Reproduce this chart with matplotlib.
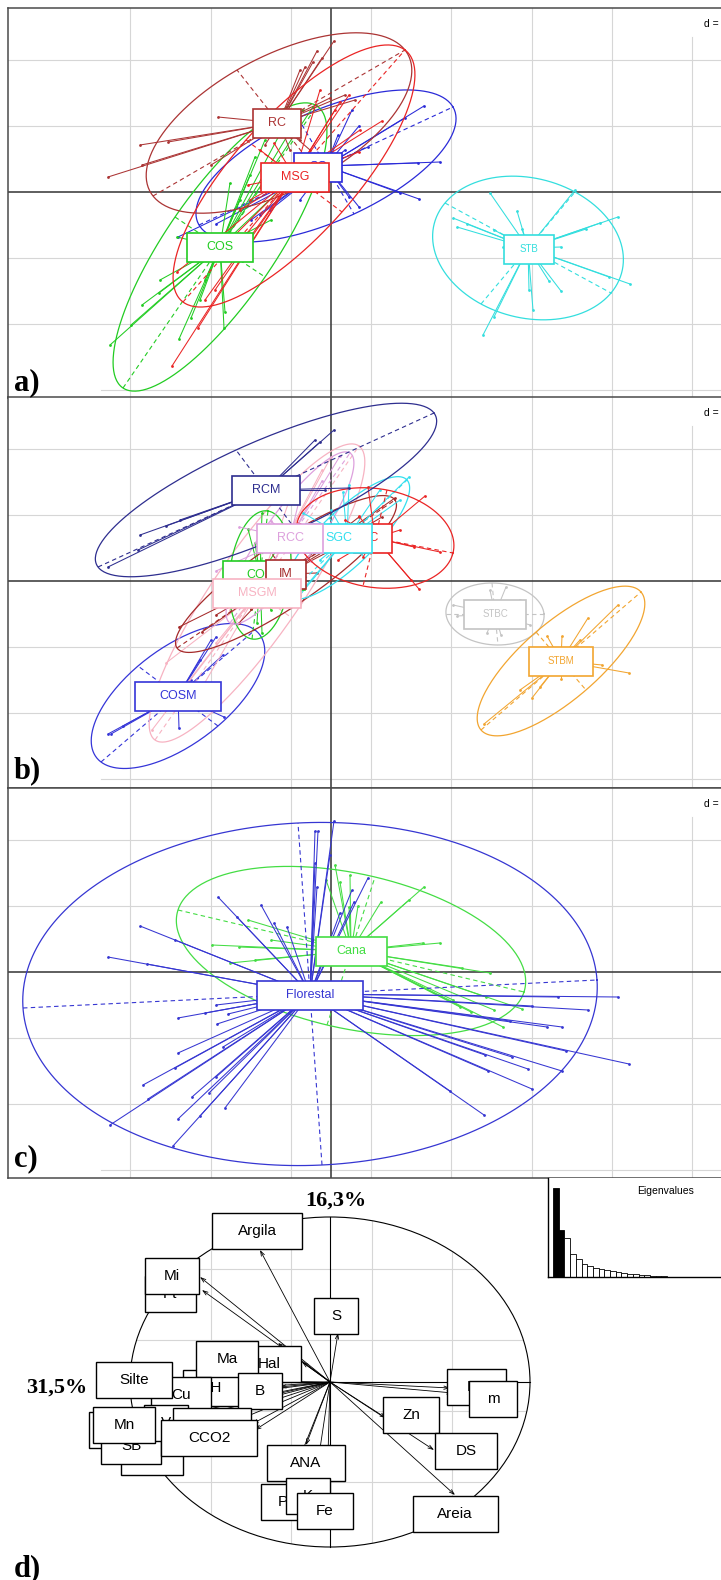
import numpy as np
import matplotlib
matplotlib.use("Agg")
import matplotlib.pyplot as plt
from matplotlib.patches import Rectangle, Ellipse
from matplotlib.collections import LineCollection

plt.rcParams['font.family'] = ['Liberation Sans', 'DejaVu Sans']

# ------------------------------------------------------------------ data
# Panel a) : class scores (units: grid-relative, read from the picture)
A_GROUPS = ["STB", "SG", "COS", "RC", "MSG"]
A_COLORS = ["#33dede", "#2a2ad8", "#22cc22", "#ab3434", "#ea2424"]
A_CX = [197, -5, -111, -52, -37]
A_CY = [-56, 26, -55, 69, 16]
A_AX1 = [(83, -45), (127, 59), (97, 141), (126, 73), (111, 126)]
A_AX2 = [(47, 56), (28, -48), (45, -30), (-42, 53), (48, -36)]
A_LX = [198, -13, -111, -54, -36]
A_LY = [-57, 25, -55, 69, 15]
A_LABEL_ORDER = ["SG", "COS", "RC", "STB", "MSG"]

A_PTS_STB = [(159, -1), (186, -19), (122, -26), (126, -35), (163, -38), (191, -37), (287, -25),
             (255, -37), (230, -55), (172, -55), (299, -92), (230, -99), (198, -98), (202, -118),
             (152, -143), (163, -125), (136, -32), (269, -31), (278, -85), (218, -89), (244, 2)]
A_PTS_SG = [(93, 86), (109, 30), (88, -7), (28, 66), (21, 82), (7, 57), (-115, -32), (-153, -45),
            (-80, -28), (87, 29), (69, -1), (74, 74), (37, 45), (18, -5), (28, -15), (14, 42),
            (-31, -8), (-61, -18), (-71, -23)]
A_PTS_COS = [(-18, 85), (-28, 82), (-41, 77), (-154, -45), (-189, -113), (-221, -153), (-152, -147),
             (-107, -136), (-140, -126), (-101, 9), (-76, 35), (-60, -28), (-200, -133), (-172, -101),
             (-106, -120), (-91, -8), (-81, 17), (-66, 52), (-131, -108), (-126, -88), (-171, -88), (-51, 2)]
A_PTS_RC = [(3, 151), (-14, 141), (-9, 134), (-18, 130), (-26, 125), (-31, 122), (-113, 75),
            (-163, 50), (-189, 27), (-223, 15), (-191, 47), (-120, 27), (-36, 82), (-1, 94), (14, 97),
            (-31, 52), (-41, 42), (-21, 42), (24, 92), (-66, 47)]
A_PTS_MSG = [(18, 97), (9, 90), (51, 71), (28, 40), (-83, 7), (-57, 49), (-154, -80), (-133, -136),
             (-159, -174), (-126, -108), (-116, -98), (-106, -68), (-101, -48), (4, 82), (-11, 102),
             (29, 62), (-81, -8), (-71, 42), (-91, -18)]

# Panel b)
B_GROUPS = ["STBC", "STBM", "COSM", "MSGM", "COSC", "IM", "RCC", "SGC", "IC", "RCM"]
B_COLORS = ["#c4c4c4", "#f2a530", "#3535d8", "#f7b3c2", "#22cc22", "#a52a2a", "#dda0dd",
            "#33dfee", "#ea2424", "#2e2e8f"]
B_CX = [164, 230, -153, -74, -71, -45, -41, 16, 44, -65]
B_CY = [-33, -80, -115, -12, 6, 7, 43, 43, 43, 91]
B_AX1 = [(49, 0), (80, 69), (77, 66), (102, 147), (8, 64), (109, 74), (60, 85), (60, 58), (78, -15), (168, 77)]
B_AX2 = [(3, -31), (25, -29), (-40, 30), (35, -25), (30, -5), (18, -26), (22, -14), (18, -20), (-12, -48), (-30, 40)]
B_LX = [164, 230, -153, -74, -67, -45, -41, 8, 42, -65]
B_LY = [-33, -80, -115, -12, 6, 7, 43, 43, 43, 91]
B_LABEL_ORDER = ["IC", "SGC", "RCC", "COSC", "IM", "MSGM", "RCM", "COSM", "STBC", "STBM"]

B_PTS_STBC = [(126, -35), (159, -9), (175, -6), (170, -54), (156, -52), (122, -24), (189, -19), (199, -44)]
B_PTS_STBM = [(287, -24), (257, -37), (231, -55), (216, -55), (298, -92), (230, -98), (201, -117),
              (153, -143), (271, -84), (209, -106), (189, -109), (249, -59)]
B_PTS_COSM = [(-223, -153), (-220, -153), (-152, -147), (-107, -136), (-108, -74), (-115, -56),
              (-208, -145), (-140, -99), (-120, -59), (-131, -79), (-181, -124)]
B_PTS_MSGM = [(-101, -29), (-165, -82), (-179, -149), (-138, -122), (-9, 111), (0, 124), (-37, 94),
              (-115, -62), (-147, -106)]
B_PTS_COSC = [(-83, 52), (-69, 68), (-60, -29), (-80, -28), (-74, -42), (-69, -52), (-76, 38), (-55, 30), (-83, -6)]
B_PTS_IM = [(64, 83), (51, 64), (28, 64), (-152, -46), (-115, -34), (-80, -28), (-14, 8), (14, 38),
            (-129, -51), (-92, -42)]
B_PTS_RCC = [(-9, 100), (-32, 80), (-92, 54), (-115, 10), (9, 125), (-60, 60), (-20, 20)]
B_PTS_SGC = [(78, 104), (49, 91), (18, 96), (12, 89), (0, 71), (-37, -19), (-31, -14), (-28, 68), (69, 81), (-11, 21)]
B_PTS_IC = [(94, 85), (109, 29), (88, -8), (28, 65), (37, 94), (32, 24), (80, 1), (83, 34), (69, 51),
            (49, 56), (14, 61), (7, 21)]
B_PTS_RCM = [(3, 151), (-16, 141), (-11, 139), (-191, 46), (-223, 14), (-165, 55), (-193, 31),
             (-151, 61), (18, 93), (-6, 91)]

# Panel c)
C_GROUPS = ["Cana", "Florestal"]
C_COLORS = ["#44dd44", "#3636d2"]
C_CX = [20, -21]
C_CY = [21, -22]
C_AX1 = [(173, -41), (287, 14)]
C_AX2 = [(24, 74), (-12, 171)]
C_LX = [20, -21]
C_LY = [21, -23]
C_LABEL_ORDER = ["Cana", "Florestal"]

C_PTS_CANA = [(19, 97), (9, 90), (93, 85), (50, 70), (27, 66), (109, 29), (-119, 27), (-83, 52),
              (-101, 9), (-60, 32), (159, -1), (163, -38), (191, -37), (172, -55), (129, -35), (78, 72),
              (92, 29), (131, 4), (155, -25), (140, -40), (122, -28), (-92, 25), (-76, 12), (18, 65),
              (4, 107), (-5, 92)]
C_PTS_FLORESTAL = [(3, 151), (-16, 141), (-13, 141), (-113, 75), (-70, 67), (-191, 46), (-223, 15),
                   (-57, 49), (-44, 45), (21, 82), (37, 94), (-14, 85), (-115, -33), (-103, -42),
                   (-114, -52), (-153, -46), (-153, -81), (-108, -75), (-188, -113), (-139, -125),
                   (-106, -136), (-153, -147), (-221, -153), (-158, -174), (287, -25), (257, -38),
                   (216, -55), (231, -55), (298, -92), (197, -97), (231, -99), (201, -117), (153, -143),
                   (-156, 32), (-184, 8), (-94, 55), (-16, 109), (-1, 117), (9, 59), (23, 70), (227, -25),
                   (201, -34), (179, -49), (235, -79), (181, -85), (157, -99), (119, -119), (154, -83),
                   (-183, -127), (-156, -96), (-131, -144), (-122, -121), (-115, -105), (-126, -41)]

# Panel d) correlation circle (drawing order of labels)
D_VARS = ["Argila", "Pt", "Mi", "S", "Hal", "pH", "Ma", "Cu", "Silte", "B", "Ca", "Mg", "SB", "V",
          "Mn", "CTC", "CCO2", "Dp", "m", "Zn", "DS", "Areia", "ANA", "P", "K", "Fe"]
D_HIDDEN = ["Ca"]   # label fully covered by other boxes in the original
D_TIP_X = [-70, -128, -130, 8, -28, -88, -52, -110, -150, -50, -170, -150, -160, -140, -165, -78,
           -75, 120, 123, 56, 104, 125, -24, -40, -15, -3]
D_TIP_Y = [132, 92, 105, 49, 20, -6, 39, -14, 2, -5, -38, -62, -52, -36, -33, -42, -48, -6, -11,
           -36, -68, -113, -63, -100, -100, -110]
D_LAB_X = [-73, -160, -158, 6, -61, -118, -103, -149, -196, -70, -211, -178, -199, -164, -206, -118,
           -121, 146, 163, 81, 136, 125, -24, -47, -22, -5]
D_LAB_Y = [151, 88, 106, 66, 18, -6, 23, -13, 2, -9, -48, -75, -64, -41, -43, -44, -56, -5, -17,
           -33, -69, -132, -81, -120, -114, -129]
D_AXIS_LABELS = ["31,5%", "16,3%"]
EIGENVALUES = [8.9, 4.7, 3.9, 2.3, 1.8, 1.3, 1.1, 0.9, 0.8, 0.7, 0.6, 0.5, 0.4, 0.33, 0.27, 0.23,
               0.17, 0.13, 0.1, 0.07, 0.05, 0.03]
N_KEPT_AXES = 2
PANEL_LETTERS = ["a)", "b)", "c)", "d)"]

# ------------------------------------------------------------------ figure
W, H = 721, 1580
fig = plt.figure(figsize=(W / 100, H / 100), dpi=100)
renderer = fig.canvas.get_renderer()

GRID_C = '#d6d6d6'
FRAME_C = '#4a4a4a'
AXIS_C = '#333333'
VGRID = [-200.75, -120.45, -40.15, 40.15, 120.45, 200.75, 281.05, 361.35]
HGRID = [132, 66, -66, -132, -198]
DASH = (0, (4, 3))


def px_axes(x0, y0, x1, y1):
    return fig.add_axes([x0 / W, 1 - y1 / H, (x1 - x0) / W, (y1 - y0) / H])


def make_panel(top, bottom, oy):
    ax = px_axes(8, top, 760, bottom)
    ax.set_xlim(8 - 331, 760 - 331)
    ytop, ybot = oy - top, oy - bottom
    ax.set_ylim(ybot, ytop)
    ax.set_xticks([])
    ax.set_yticks([])
    for s in ['left', 'top', 'bottom']:
        ax.spines[s].set_color(FRAME_C)
        ax.spines[s].set_linewidth(1.1)
    ax.spines['right'].set_visible(False)
    for gx in VGRID:
        y_end = ytop if gx < 350 else ytop - 29
        ax.plot([gx, gx], [ybot, y_end], color=GRID_C, lw=0.8, zorder=0.5)
    for gy in HGRID:
        if ybot < gy < ytop:
            x0 = -323 if gy > -190 else 101 - 331
            ax.plot([x0, 429], [gy, gy], color=GRID_C, lw=0.8, zorder=0.5)
    ax.axhline(0, color=AXIS_C, lw=1.1, zorder=1)
    ax.axvline(0, color=AXIS_C, lw=1.1, zorder=1)
    ax.text(388, ytop - 16, "d =", fontsize=7.5, ha='right', va='center', zorder=2)
    return ax


def draw_group(ax, pts, c, u, v, color):
    pts = np.asarray(pts, float)
    cx, cy = c
    segs = [[(cx, cy), (p[0], p[1])] for p in pts]
    ax.add_collection(LineCollection(segs, colors=color, linewidths=0.75, zorder=3))
    ax.scatter(pts[:, 0], pts[:, 1], s=4, color=color, zorder=3, linewidths=0)
    t = np.linspace(0, 2 * np.pi, 240)
    ax.plot(cx + u[0] * np.cos(t) + v[0] * np.sin(t), cy + u[1] * np.cos(t) + v[1] * np.sin(t),
            color=color, lw=0.9, zorder=3)
    for w in (u, v):
        ax.plot([cx - w[0], cx + w[0]], [cy - w[1], cy + w[1]], color=color, lw=0.8, ls=DASH, zorder=3)


def box_label(ax, x, y, text, color, fs, bh, wfac, wadd, z, ec=None, lw=1.2, show=True):
    t = ax.text(x, y, text, color=color, fontsize=fs, ha='center', va='center', zorder=z + 0.5)
    tw = t.get_window_extent(renderer=renderer).width
    if not show:
        t.remove()
    bw = wfac * tw + wadd
    ax.add_patch(Rectangle((x - bw / 2, y - bh / 2), bw, bh, facecolor='white',
                           edgecolor=ec or color, lw=lw, zorder=z))


def draw_panel(ax, groups, colors, cx, cy, ax1, ax2, lx, ly, pts_map, order):
    for i, g in enumerate(groups):
        draw_group(ax, pts_map[g], (cx[i], cy[i]), ax1[i], ax2[i], colors[i])
    for k, g in enumerate(order):
        i = groups.index(g)
        fs = 7.0 if g.startswith("STB") else 9
        box_label(ax, lx[i], ly[i], g, colors[i], fs, 29, 1.9, 14, 10 + 2 * k)


def panel_letter(txt, base_y):
    fig.text(14 / W, 1 - base_y / H, txt, family='Liberation Serif', fontweight='bold',
             fontsize=22, ha='left', va='baseline')


# panel a
axa = make_panel(8, 398, 192)
draw_panel(axa, A_GROUPS, A_COLORS, A_CX, A_CY, A_AX1, A_AX2, A_LX, A_LY,
           {"STB": A_PTS_STB, "SG": A_PTS_SG, "COS": A_PTS_COS, "RC": A_PTS_RC, "MSG": A_PTS_MSG},
           A_LABEL_ORDER)
# panel b
axb = make_panel(397, 788, 581)
draw_panel(axb, B_GROUPS, B_COLORS, B_CX, B_CY, B_AX1, B_AX2, B_LX, B_LY,
           {"STBC": B_PTS_STBC, "STBM": B_PTS_STBM, "COSM": B_PTS_COSM, "MSGM": B_PTS_MSGM,
            "COSC": B_PTS_COSC, "IM": B_PTS_IM, "RCC": B_PTS_RCC, "SGC": B_PTS_SGC, "IC": B_PTS_IC,
            "RCM": B_PTS_RCM},
           B_LABEL_ORDER)
# panel c
axc = make_panel(788, 1178, 972)
draw_panel(axc, C_GROUPS, C_COLORS, C_CX, C_CY, C_AX1, C_AX2, C_LX, C_LY,
           {"Cana": C_PTS_CANA, "Florestal": C_PTS_FLORESTAL}, C_LABEL_ORDER)

panel_letter(PANEL_LETTERS[0], 390)
panel_letter(PANEL_LETTERS[1], 778)
panel_letter(PANEL_LETTERS[2], 1166)

# panel d
axd = px_axes(0, 1178, 721, 1580)
axd.set_xlim(-330, 391)
axd.set_ylim(-198, 204)
axd.axis('off')
RX, RY = 200, 165
circ = Ellipse((0, 0), 2 * RX, 2 * RY, fill=False, ec='black', lw=0.8, zorder=2)
axd.add_patch(circ)
for gx in [-199.7, -119.4, -39.4, 41.5, 121.5, 202]:
    ln, = axd.plot([gx, gx], [-RY, RY], color=GRID_C, lw=0.8, zorder=1)
    ln.set_clip_path(circ)
for gy in [113, 42, -29, -100]:
    ln, = axd.plot([-RX, RX], [gy, gy], color=GRID_C, lw=0.8, zorder=1)
    ln.set_clip_path(circ)
axd.plot([0, 0], [-RY, RY], color='black', lw=0.8, zorder=2)
axd.plot([-RX, RX], [0, 0], color='black', lw=0.8, zorder=2)
for tx, ty in zip(D_TIP_X, D_TIP_Y):
    axd.annotate("", xy=(tx, ty), xytext=(0, 0),
                 arrowprops=dict(arrowstyle="->,head_length=0.35,head_width=0.12", lw=0.6,
                                 color='black', shrinkA=0, shrinkB=0), zorder=3)
for k, (name, x, y) in enumerate(zip(D_VARS, D_LAB_X, D_LAB_Y)):
    box_label(axd, x, y, name, 'black', 11, 36, 1.6, 28, 10 + 2 * k, ec='black', lw=1.0,
              show=name not in D_HIDDEN)

fig.text(57 / W, 1 - 1388 / H, D_AXIS_LABELS[0], family='Liberation Serif', fontweight='bold',
         fontsize=16, ha='center', va='center')
fig.text(336 / W, 1 - 1201 / H, D_AXIS_LABELS[1], family='Liberation Serif', fontweight='bold',
         fontsize=16, ha='center', va='center')
panel_letter(PANEL_LETTERS[3], 1576)

# eigenvalue inset
axe = px_axes(548, 1178, 760, 1277)
n = len(EIGENVALUES)
axe.bar(np.arange(n), EIGENVALUES, width=1, align='edge',
        color=['black'] * N_KEPT_AXES + ['white'] * (n - N_KEPT_AXES), edgecolor='black', lw=0.6)
axe.set_xlim(-0.88, 212 / 5.7 - 0.88)
axe.set_ylim(0, 9.9)
axe.set_xticks([])
axe.set_yticks([])
for s in ['top', 'right']:
    axe.spines[s].set_visible(False)
for s in ['left', 'bottom']:
    axe.spines[s].set_linewidth(1.0)
fig.text(666 / W, 1 - 1191 / H, "Eigenvalues", fontsize=7.5, ha='center', va='center')

fig.savefig("out.png", dpi=100)
